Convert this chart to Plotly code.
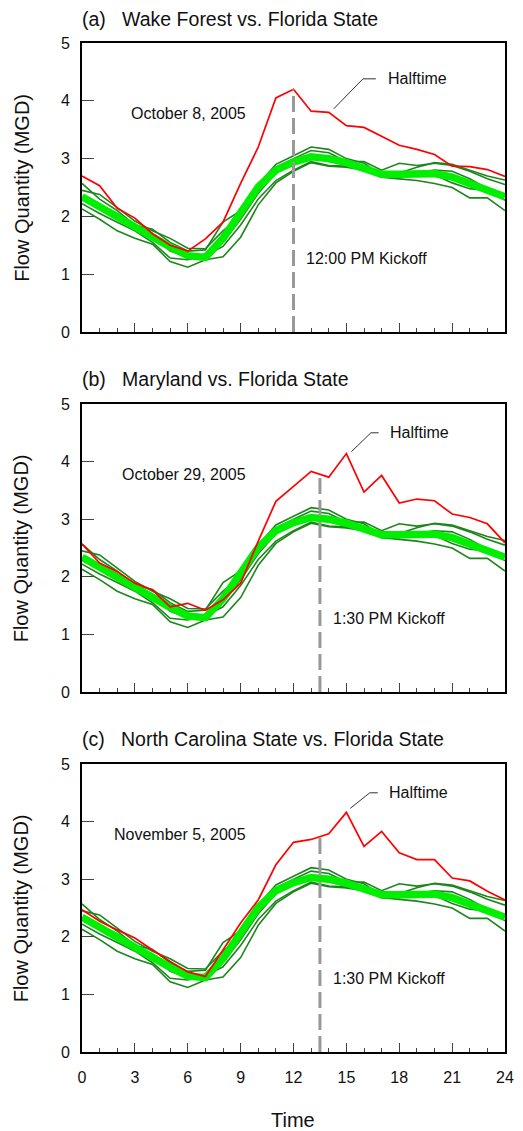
import plotly.graph_objects as go

hours = list(range(25))

# Typical (non-game) days - dark green
day1 = [2.57, 2.30, 2.10, 1.85, 1.78, 1.55, 1.40, 1.42, 1.90, 2.10, 2.55, 2.90, 3.05, 3.20, 3.16, 3.00, 2.92, 2.72, 2.75, 2.85, 2.93, 2.90, 2.80, 2.70, 2.63]
day2 = [2.45, 2.38, 2.15, 1.92, 1.75, 1.62, 1.45, 1.44, 1.75, 2.00, 2.45, 2.85, 3.00, 3.14, 3.10, 2.95, 2.95, 2.80, 2.92, 2.88, 2.92, 2.88, 2.78, 2.65, 2.55]
day3 = [2.30, 2.20, 2.05, 1.85, 1.70, 1.40, 1.30, 1.35, 1.55, 1.95, 2.40, 2.75, 2.95, 3.04, 2.95, 2.92, 2.85, 2.70, 2.68, 2.75, 2.80, 2.78, 2.65, 2.48, 2.35]
day4 = [2.22, 2.05, 1.90, 1.75, 1.55, 1.28, 1.25, 1.32, 1.48, 1.85, 2.30, 2.62, 2.80, 2.95, 2.88, 2.87, 2.82, 2.68, 2.72, 2.70, 2.72, 2.58, 2.48, 2.45, 2.28]
day5 = [2.13, 1.95, 1.75, 1.62, 1.52, 1.22, 1.12, 1.25, 1.30, 1.64, 2.20, 2.58, 2.78, 2.93, 2.87, 2.85, 2.80, 2.68, 2.65, 2.62, 2.57, 2.50, 2.32, 2.32, 2.10]
typical_days = [day1, day2, day3, day4, day5]

# Average of typical days - thick lime
average = [2.34, 2.16, 1.98, 1.82, 1.64, 1.47, 1.32, 1.29, 1.62, 2.08, 2.51, 2.80, 2.94, 3.03, 3.00, 2.93, 2.83, 2.73, 2.73, 2.73, 2.74, 2.68, 2.57, 2.45, 2.34]

# Game days - red
game_a = [2.70, 2.53, 2.14, 1.97, 1.70, 1.50, 1.40, 1.61, 1.90, 2.57, 3.20, 4.05, 4.20, 3.82, 3.80, 3.57, 3.54, 3.39, 3.23, 3.16, 3.07, 2.87, 2.86, 2.81, 2.69]
game_b = [2.57, 2.24, 2.09, 1.89, 1.77, 1.48, 1.54, 1.42, 1.60, 1.89, 2.62, 3.31, 3.57, 3.83, 3.73, 4.14, 3.47, 3.76, 3.28, 3.35, 3.32, 3.09, 3.03, 2.92, 2.59]
game_c = [2.47, 2.27, 2.12, 1.98, 1.77, 1.57, 1.39, 1.31, 1.77, 2.24, 2.64, 3.25, 3.64, 3.69, 3.79, 4.16, 3.57, 3.83, 3.46, 3.34, 3.34, 3.02, 2.97, 2.79, 2.64]
game_days = [game_a, game_b, game_c]

titles = ["(a)\u00a0\u00a0\u00a0Wake Forest vs. Florida State",
          "(b)\u00a0\u00a0\u00a0Maryland vs. Florida State",
          "(c)\u00a0\u00a0\u00a0North Carolina State vs. Florida State"]
dates = ["October 8, 2005", "October 29, 2005", "November 5, 2005"]
kickoff_labels = ["12:00 PM Kickoff", "1:30 PM Kickoff", "1:30 PM Kickoff"]
kickoff_hours = [12.0, 13.5, 13.5]
kickoff_tops = [4.2, 3.8, 3.72]
halftime_pts = [(14.28, 3.86), (15.28, 4.17), (15.22, 4.23)]
halftime_corner = [(15.94, 4.38), (16.39, 4.50), (16.33, 4.50)]
halftime_end = [16.67, 16.83, 16.78]

x_ticks = [0, 3, 6, 9, 12, 15, 18, 21, 24]
y_ticks = [0, 1, 2, 3, 4, 5]

FONT = "Liberation Sans, Arial, sans-serif"
DARK = "#1c861c"
LIME = "#00ee00"
RED = "#ff0000"
TXT = "#111111"

H = 1009.0
domains = [[720 / H, 1.0], [360 / H, 648 / H], [0.0, 288 / H]]
title_y = [(1052 - 19) / H, (1052 - 379) / H, (1052 - 739) / H]

fig = go.Figure()
for i in range(3):
    xa = "x" if i == 0 else f"x{i+1}"
    ya = "y" if i == 0 else f"y{i+1}"
    for d in typical_days:
        fig.add_trace(go.Scatter(x=hours, y=d, mode="lines", xaxis=xa, yaxis=ya,
                                 line=dict(color=DARK, width=1.6), showlegend=False, hoverinfo="skip"))
    fig.add_trace(go.Scatter(x=hours, y=average, mode="lines", xaxis=xa, yaxis=ya,
                             line=dict(color=LIME, width=7.5), showlegend=False, hoverinfo="skip"))
    fig.add_trace(go.Scatter(x=hours, y=game_days[i], mode="lines", xaxis=xa, yaxis=ya,
                             line=dict(color=RED, width=1.7), showlegend=False, hoverinfo="skip"))

    # kickoff dashed line
    fig.add_shape(type="line", xref=xa, yref=ya, x0=kickoff_hours[i], x1=kickoff_hours[i],
                  y0=0, y1=kickoff_tops[i], line=dict(color="#999999", width=3, dash="16px,6px"), layer="above")
    # halftime leader
    hp, hc = halftime_pts[i], halftime_corner[i]
    fig.add_shape(type="line", xref=xa, yref=ya, x0=hp[0], y0=hp[1], x1=hc[0], y1=hc[1],
                  line=dict(color="#333333", width=1))
    fig.add_shape(type="line", xref=xa, yref=ya, x0=hc[0], y0=hc[1], x1=halftime_end[i], y1=hc[1],
                  line=dict(color="#333333", width=1))
    fig.add_annotation(xref=xa, yref=ya, x=halftime_end[i] + 0.55, y=hc[1], text="Halftime",
                       showarrow=False, xanchor="left", yanchor="middle",
                       font=dict(family=FONT, size=16, color=TXT))
    fig.add_annotation(xref=xa, yref=ya, x=9.44, y=3.78, text=dates[i], showarrow=False,
                       xanchor="right", yanchor="middle", font=dict(family=FONT, size=16, color=TXT))
    fig.add_annotation(xref=xa, yref=ya, x=kickoff_hours[i] + 0.6, y=1.28, text=kickoff_labels[i],
                       showarrow=False, xanchor="left", yanchor="middle",
                       font=dict(family=FONT, size=16, color=TXT))
    # panel title
    fig.add_annotation(xref="paper", yref="paper", x=-0.004, y=title_y[i], text=titles[i],
                       showarrow=False, xanchor="left", yanchor="middle",
                       font=dict(family=FONT, size=19.5, color=TXT))
    # y title
    fig.add_annotation(xref="paper", yref="paper", x=-62 / 432, y=sum(domains[i]) / 2,
                       text="Flow Quantity (MGD)", textangle=-90, showarrow=False,
                       xanchor="center", yanchor="middle", font=dict(family=FONT, size=20, color=TXT))

    xkey = "xaxis" if i == 0 else f"xaxis{i+1}"
    ykey = "yaxis" if i == 0 else f"yaxis{i+1}"
    fig.layout[xkey] = dict(range=[0, 24], tickvals=x_ticks, ticks="inside", ticklen=9, tickwidth=1,
                            tickcolor="#444", showline=True, linecolor="black", linewidth=2, mirror=True,
                            showgrid=False, zeroline=False, showticklabels=(i == 2),
                            ticklabelstandoff=10,
                            tickfont=dict(family=FONT, size=16, color=TXT),
                            minor=dict(dtick=1, tick0=0, ticks="inside", ticklen=4, tickcolor="#444", showgrid=False),
                            anchor=ya)
    fig.layout[ykey] = dict(range=[0, 5], domain=domains[i], tickvals=y_ticks, ticks="inside", ticklen=12,
                            tickwidth=1, tickcolor="#444", showline=True, linecolor="black", linewidth=2,
                            mirror=True, showgrid=False, zeroline=False, ticklabelstandoff=7,
                            tickfont=dict(family=FONT, size=16, color=TXT), anchor=xa)

fig.add_annotation(xref="paper", yref="paper", x=(297 - 82) / 432, y=(1052 - 1120) / H, text="Time",
                   showarrow=False, xanchor="center", yanchor="middle",
                   font=dict(family=FONT, size=20, color=TXT))

fig.update_layout(width=523, height=1131, margin=dict(l=82, r=9, t=43, b=79),
                  plot_bgcolor="white", paper_bgcolor="white", showlegend=False)

fig.write_html("out.html")
